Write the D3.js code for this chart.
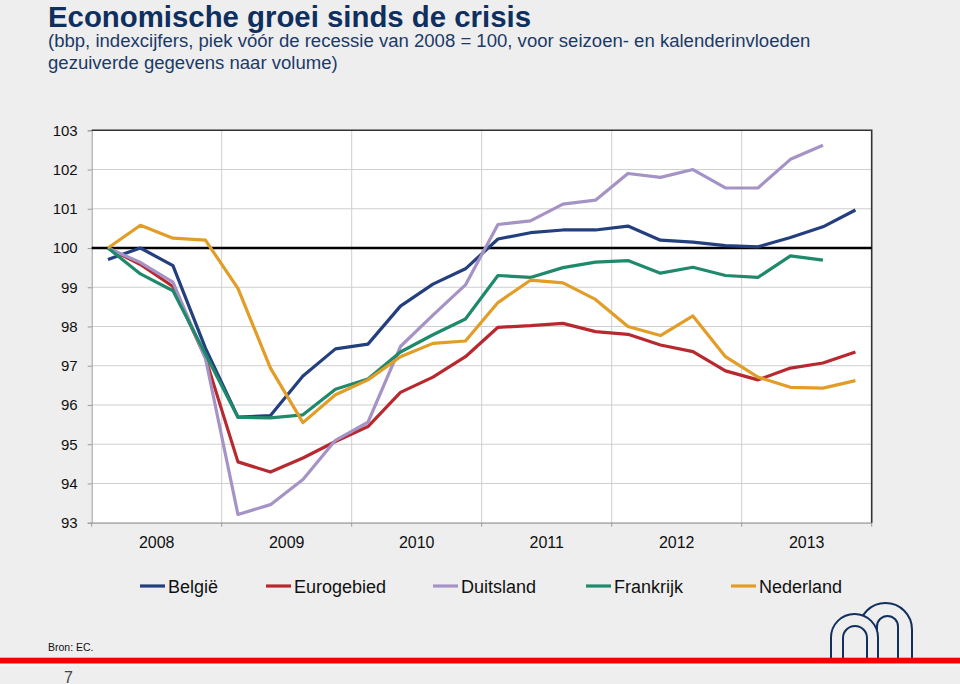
<!DOCTYPE html>
<html>
<head>
<meta charset="utf-8">
<script src="https://cdn.jsdelivr.net/npm/d3@7"></script>
<style>
  html, body { margin: 0; padding: 0; background: #eeeeee; }
  svg { display: block; font-family: "Liberation Sans", Arial, sans-serif; }
</style>
</head>
<body>
<svg id="chart" width="960" height="684"></svg>
<script>
// ---------- data ----------
const quarters = ["2008Q1","2008Q2","2008Q3","2008Q4","2009Q1","2009Q2","2009Q3","2009Q4",
  "2010Q1","2010Q2","2010Q3","2010Q4","2011Q1","2011Q2","2011Q3","2011Q4",
  "2012Q1","2012Q2","2012Q3","2012Q4","2013Q1","2013Q2","2013Q3","2013Q4"];
const years = ["2008","2009","2010","2011","2012","2013"];
const yTicks = [93,94,95,96,97,98,99,100,101,102,103];

const belgie = [99.71,100.0,99.55,97.45,95.69,95.73,96.74,97.43,97.55,98.52,99.08,99.47,
  100.23,100.39,100.46,100.46,100.56,100.20,100.15,100.06,100.03,100.27,100.54,100.97];
const eurogebied = [100,99.58,99.02,97.2,94.55,94.29,94.65,95.07,95.45,96.32,96.71,97.23,
  97.98,98.02,98.08,97.87,97.80,97.53,97.36,96.87,96.64,96.94,97.07,97.35];
const duitsland = [100,99.63,99.13,97.19,93.21,93.46,94.10,95.10,95.56,97.49,98.29,99.06,
  100.60,100.69,101.12,101.22,101.90,101.80,102.00,101.53,101.53,102.26,102.62,null];
const frankrijk = [100,99.34,98.91,97.3,95.69,95.67,95.75,96.40,96.66,97.35,97.79,98.19,
  99.30,99.25,99.50,99.64,99.68,99.36,99.51,99.30,99.25,99.80,99.69,null];
const nederland = [100,100.58,100.25,100.20,98.97,96.94,95.55,96.26,96.64,97.23,97.57,97.63,
  98.61,99.18,99.11,98.69,98.00,97.77,98.27,97.23,96.71,96.45,96.43,96.62];

const seriesNames = ["België","Eurogebied","Duitsland","Frankrijk","Nederland"];
const seriesValues = [belgie, eurogebied, duitsland, frankrijk, nederland];
const seriesColors = ["#233f7e","#b8292f","#a593c6","#1f8a6b","#e29d27"];

const title = "Economische groei sinds de crisis";
const subtitle1 = "(bbp, indexcijfers, piek vóór de recessie van 2008 = 100, voor seizoen- en kalenderinvloeden";
const subtitle2 = "gezuiverde gegevens naar volume)";
const source = "Bron: EC.";
const pageNo = "7";

// ---------- layout ----------
const svg = d3.select("#chart");
const L = 91.7, R = 871.7, T = 130.3, B = 522.7;

const x = d3.scalePoint().domain(quarters).range([L, R]).padding(0.5);
const xYear = d3.scaleBand().domain(years).range([L, R]);
const y = d3.scaleLinear().domain([93, 103]).range([B, T]);

// page background
svg.append("rect").attr("width", 960).attr("height", 684).attr("fill", "#eeeeee");

// titles
function fitText(sel, target) {
  const w = sel.node().getComputedTextLength();
  const fs = parseFloat(sel.attr("font-size"));
  sel.attr("font-size", fs * target / w);
}
const tt = svg.append("text").attr("x", 48).attr("y", 26.5).attr("font-size", 28)
  .attr("font-weight", "bold").attr("fill", "#0f2f5f").text(title);
fitText(tt, 483);
const s1 = svg.append("text").attr("x", 48).attr("y", 47).attr("font-size", 18)
  .attr("fill", "#1b3a68").text(subtitle1);
fitText(s1, 763);
const s2 = svg.append("text").attr("x", 48).attr("y", 69).attr("font-size", 18)
  .attr("fill", "#1b3a68").text(subtitle2);
s2.attr("font-size", s1.attr("font-size"));

// plot background
svg.append("rect").attr("x", L).attr("y", T).attr("width", R - L).attr("height", B - T).attr("fill", "#ffffff");

// horizontal gridlines
svg.append("g").selectAll("line").data(yTicks).join("line")
  .attr("x1", L).attr("x2", R).attr("y1", d => y(d)).attr("y2", d => y(d))
  .attr("stroke", "#cfcfcf").attr("stroke-width", 1);
// vertical gridlines at year boundaries
svg.append("g").selectAll("line").data(years.slice(1)).join("line")
  .attr("x1", d => xYear(d)).attr("x2", d => xYear(d)).attr("y1", T).attr("y2", B)
  .attr("stroke", "#cfcfcf").attr("stroke-width", 1);

// y axis
const yAxis = svg.append("g").attr("transform", `translate(${L},0)`)
  .call(d3.axisLeft(y).tickValues(yTicks).tickSize(4).tickPadding(10).tickFormat(d3.format("d")));
yAxis.select(".domain").attr("stroke", "#9a9a9a");
yAxis.selectAll(".tick line").attr("stroke", "#9a9a9a");
yAxis.selectAll(".tick text").attr("font-size", 15).attr("fill", "#111")
  .attr("font-family", "Liberation Sans, Arial, sans-serif");

// x axis (year labels centered in bands, ticks at boundaries)
const xAxis = svg.append("g").attr("transform", `translate(0,${B})`)
  .call(d3.axisBottom(xYear).tickSize(0).tickPadding(14));
xAxis.select(".domain").attr("stroke", "#9a9a9a");
xAxis.selectAll(".tick text").attr("font-size", 16).attr("fill", "#111")
  .attr("font-family", "Liberation Sans, Arial, sans-serif");
svg.append("g").selectAll("line").data(years.concat(["end"])).join("line")
  .attr("x1", (d, i) => i < years.length ? xYear(d) : R)
  .attr("x2", (d, i) => i < years.length ? xYear(d) : R)
  .attr("y1", B).attr("y2", B + 4).attr("stroke", "#9a9a9a");

// top and right border
svg.append("path").attr("d", `M${L},${T}H${R}V${B}`).attr("fill", "none")
  .attr("stroke", "#333").attr("stroke-width", 1.6);

// reference line at 100
svg.append("line").attr("x1", L).attr("x2", R).attr("y1", y(100)).attr("y2", y(100))
  .attr("stroke", "#000").attr("stroke-width", 2.5);

// series
const line = d3.line().defined(d => d.v !== null).x(d => x(d.q)).y(d => y(d.v));
seriesValues.forEach((vals, i) => {
  const pts = quarters.map((q, j) => ({ q, v: vals[j] }));
  svg.append("path").datum(pts).attr("d", line).attr("fill", "none")
    .attr("stroke", seriesColors[i]).attr("stroke-width", 3.2)
    .attr("stroke-linejoin", "round");
});

// legend
const legendX = [140, 266, 433, 586, 731];
const lg = svg.append("g");
seriesNames.forEach((n, i) => {
  lg.append("line").attr("x1", legendX[i]).attr("x2", legendX[i] + 25)
    .attr("y1", 586).attr("y2", 586).attr("stroke", seriesColors[i]).attr("stroke-width", 3.2);
  lg.append("text").attr("x", legendX[i] + 28).attr("y", 592.5).attr("font-size", 18)
    .attr("fill", "#111").text(n);
});

// source
svg.append("text").attr("x", 48).attr("y", 651).attr("font-size", 10.5).attr("fill", "#111").text(source);

// logo arches
const navy = "#12305e";
function arch(x1, x2, top, bottom) {
  const r = (x2 - x1) / 2;
  return `M${x1},${bottom}V${top + r}A${r},${r} 0 0 1 ${x2},${top + r}V${bottom}`;
}
const logo = svg.append("g").attr("fill", "none").attr("stroke", navy).attr("stroke-width", 2);
logo.append("path").attr("d", arch(859, 912, 603, 658));
logo.append("path").attr("d", arch(877, 898, 616, 658));
logo.append("path").attr("d", arch(831, 878, 614, 658)).attr("fill", "#eeeeee");
logo.append("path").attr("d", arch(843, 867, 626, 658));

// red band
svg.append("rect").attr("x", 0).attr("y", 657.7).attr("width", 960).attr("height", 6).attr("fill", "#f40000");
svg.append("rect").attr("x", 0).attr("y", 663.7).attr("width", 960).attr("height", 2).attr("fill", "#f7f7f7");

// page number
svg.append("text").attr("x", 64).attr("y", 682.5).attr("font-size", 16).attr("fill", "#444").text(pageNo);
</script>
</body>
</html>
